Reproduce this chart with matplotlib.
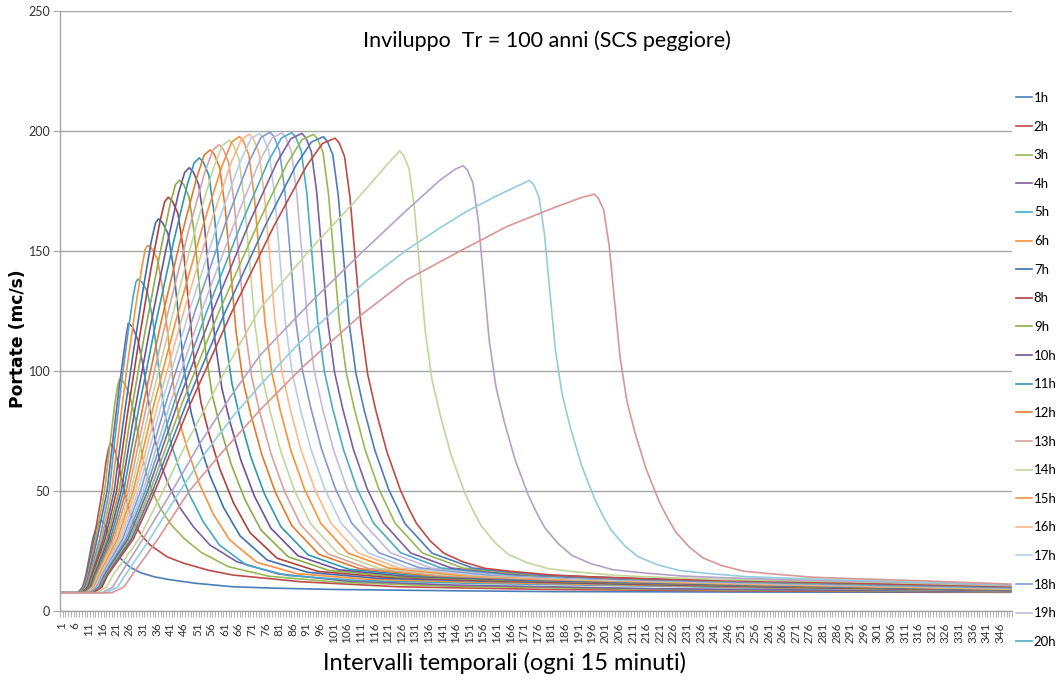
import matplotlib.pyplot as plt
from matplotlib.ticker import FixedLocator

# Hydrographs: interval number (15 min steps) and discharge in m3/s for each rain duration
hours = ['1h', '2h', '3h', '4h', '5h', '6h', '7h', '8h', '9h', '10h', '11h', '12h',
         '13h', '14h', '15h', '16h', '17h', '18h', '19h', '20h', '21h', '22h', '23h', '24h',
         '30h', '36h', '42h', '48h']

t01 = [1, 7, 8.8, 10, 12.5, 14.2, 15.6, 16.8, 18, 20, 22.6, 26, 30, 35, 40, 50, 64, 80, 100, 140, 180, 250, 350]
q01 = [7.6, 7.6, 10, 15, 30, 36.3, 37.8, 36.5, 33, 27, 22, 18.5, 16, 14.3, 13.2, 11.6, 10.1, 9.5, 9.0, 8.5, 8.1, 7.9, 7.8]

t02 = [1, 7.25, 9.1, 10.35, 13.05, 16, 17.4, 18.4, 19.1, 20.5, 22, 24, 26, 28, 30.5, 33.6, 40, 46, 55, 64, 89, 125, 180, 250, 350]
q02 = [7.6, 7.6, 10, 15, 30, 50, 62, 68, 69.8, 67.5, 61, 51, 42, 36, 31.5, 27.5, 22.5, 19.9, 17, 15, 12.2, 10.1, 9.0, 8.4, 7.9]

t03 = [1, 7.5, 9.4, 10.7, 13.6, 16.9, 18.9, 20.6, 21.6, 22.3, 23.8, 25.8, 27.8, 29.8, 31.8, 34.3, 37.3, 41.3, 46.3, 52.3, 62.3, 77.3, 102.3, 142.3, 220, 350]
q03 = [7.6, 7.6, 10, 15, 30, 50, 70, 86, 93.5, 96.5, 95.5, 91, 82, 70, 59, 50, 43, 36, 30, 24.5, 18.5, 14.5, 12, 10.4, 9.0, 8.0]

t04 = [1, 7.75, 9.7, 11.05, 14.15, 17.8, 20, 22.1, 24, 25, 25.6, 27.1, 29.1, 31.1, 33.1, 35.1, 37.6, 40.6, 44.6, 49.6, 55.6, 65.6, 80.6, 105.6, 145.6, 220, 350]
q04 = [7.6, 7.6, 10, 15, 30, 50, 72, 92, 108, 116, 119.9, 118.5, 113, 102, 87, 73, 61, 52, 43, 35, 27.5, 20.5, 15.5, 12.5, 10.8, 9.3, 8.1]

t05 = [1, 8.0, 10.0, 11.4, 15.1, 18.6, 20.7, 23.0, 25.5, 27.4, 28.4, 29.1, 30.6, 32.6, 34.6, 36.6, 38.6, 41.1, 44.1, 48.1, 53.1, 59.1, 69.1, 84.1, 109.1, 149.1, 260, 350]
q05 = [7.6, 7.6, 10, 15, 30, 50, 72.1, 94.2, 116.2, 131.2, 137.0, 138.3, 137.0, 133.1, 121.4, 103.1, 84.9, 70.5, 60.1, 48.4, 37.3, 27.5, 19.1, 14.8, 12.8, 11.6, 9.6, 8.3]

t06 = [1, 8.25, 10.35, 11.75, 15.75, 19.5, 22.2, 25.1, 28.3, 30.7, 31.9, 32.8, 34.3, 36.3, 38.3, 40.3, 42.3, 44.8, 47.8, 51.8, 56.8, 62.8, 72.8, 87.8, 112.8, 152.8, 260, 350]
q06 = [7.6, 7.6, 10, 15, 30, 50, 75.6, 101.2, 126.8, 144.2, 150.9, 152.4, 151.0, 146.6, 133.6, 113.4, 93.2, 77.3, 65.8, 52.8, 40.5, 29.7, 20.3, 15.5, 13.3, 12.0, 9.8, 8.4]

t07 = [1, 8.5, 10.65, 12.1, 16.4, 20.4, 23.7, 27.3, 31.2, 34.1, 35.6, 36.7, 38.2, 40.2, 42.2, 44.2, 46.2, 48.7, 51.7, 55.7, 60.7, 66.7, 76.7, 91.7, 116.7, 156.7, 260, 350]
q07 = [7.6, 7.6, 10, 15, 30, 50, 78.4, 106.7, 135.1, 154.3, 161.7, 163.4, 161.8, 157.2, 143.2, 121.4, 99.7, 82.6, 70.2, 56.2, 43.0, 31.3, 21.2, 16.1, 13.7, 12.4, 10.0, 8.5]

t08 = [1, 8.75, 10.95, 12.45, 17.05, 21.3, 25.1, 29.3, 33.8, 37.3, 39.0, 40.3, 41.8, 43.8, 45.8, 47.8, 49.8, 52.3, 55.3, 59.3, 64.3, 70.3, 80.3, 95.3, 120.3, 160.3, 260, 350]
q08 = [7.6, 7.6, 10, 15, 30, 50, 80.6, 111.2, 141.8, 162.6, 170.6, 172.4, 170.8, 165.8, 151.0, 128.0, 105.0, 86.9, 73.8, 59.0, 45.0, 32.7, 22.0, 16.5, 14.1, 12.6, 10.2, 8.6]

t09 = [1, 9.0, 11.3, 12.8, 17.7, 22.2, 26.6, 31.5, 36.9, 40.9, 42.9, 44.4, 45.9, 47.9, 49.9, 51.9, 53.9, 56.4, 59.4, 63.4, 68.4, 74.4, 84.4, 99.4, 124.4, 164.4, 260, 350]
q09 = [7.6, 7.6, 10, 15, 30, 50, 82.4, 114.8, 147.1, 169.1, 177.6, 179.5, 177.8, 172.6, 157.2, 133.2, 109.2, 90.3, 76.6, 61.2, 46.6, 33.7, 22.6, 16.9, 14.3, 12.8, 10.4, 8.7]

t10 = [1, 9.25, 11.6, 13.15, 18.35, 23.0, 28.0, 33.5, 39.5, 44.0, 46.3, 48.0, 49.5, 51.5, 53.5, 55.5, 57.5, 60.0, 63.0, 67.0, 72.0, 78.0, 88.0, 103.0, 128.0, 168.0, 260, 350]
q10 = [7.6, 7.6, 10, 15, 30, 50, 83.7, 117.4, 151.0, 173.9, 182.7, 184.7, 182.9, 177.6, 161.7, 137.0, 112.3, 92.8, 78.7, 62.8, 47.8, 34.5, 23.0, 17.2, 14.5, 12.9, 10.6, 8.8]

t11 = [1, 9.5, 11.9, 13.5, 19.0, 23.9, 29.5, 35.6, 42.3, 47.3, 49.8, 51.7, 53.2, 55.2, 57.2, 59.2, 61.2, 63.7, 66.7, 70.7, 75.7, 81.7, 91.7, 106.7, 131.7, 171.7, 260, 350]
q11 = [7.6, 7.6, 10, 15, 30, 50, 84.7, 119.4, 154.1, 177.7, 186.7, 188.8, 187.0, 181.6, 165.3, 140.0, 114.7, 94.8, 80.3, 64.0, 48.7, 35.1, 23.4, 17.4, 14.7, 13.1, 10.8, 8.9]

t12 = [1, 9.75, 12.2, 13.85, 19.65, 24.8, 31.0, 37.8, 45.2, 50.8, 53.5, 55.7, 57.2, 59.2, 61.2, 63.2, 65.2, 67.7, 70.7, 74.7, 79.7, 85.7, 95.7, 110.7, 135.7, 175.7, 260, 350]
q12 = [7.6, 7.6, 10, 15, 30, 50, 85.5, 121.1, 156.6, 180.7, 190.0, 192.1, 190.3, 184.7, 168.2, 142.4, 116.6, 96.4, 81.6, 65.1, 49.4, 35.6, 23.6, 17.6, 14.8, 13.2, 10.9, 9.0]

t13 = [1, 10.0, 12.5, 14.2, 20.3, 25.7, 32.4, 39.7, 47.7, 53.7, 56.7, 59.0, 60.5, 62.5, 64.5, 66.5, 68.5, 71.0, 74.0, 78.0, 83.0, 89.0, 99.0, 114.0, 139.0, 179.0, 260, 350]
q13 = [7.6, 7.6, 10, 15, 30, 50, 86.1, 122.2, 158.2, 182.8, 192.1, 194.3, 192.4, 186.8, 170.1, 144.0, 117.9, 97.4, 82.5, 65.8, 49.9, 35.9, 23.8, 17.7, 14.9, 13.2, 11.0, 9.1]

t14 = [1, 10.25, 12.85, 14.55, 20.95, 26.6, 33.8, 41.8, 50.4, 56.9, 60.2, 62.7, 64.2, 66.2, 68.2, 70.2, 72.2, 74.7, 77.7, 81.7, 86.7, 92.7, 102.7, 117.7, 142.7, 182.7, 260, 350]
q14 = [7.6, 7.6, 10, 15, 30, 50, 86.6, 123.1, 159.7, 184.5, 194.0, 196.2, 194.3, 188.7, 171.7, 145.4, 119.0, 98.3, 83.3, 66.3, 50.3, 36.2, 24.0, 17.8, 15.0, 13.3, 11.2, 9.2]

t15 = [1, 10.5, 13.15, 14.9, 21.6, 27.4, 35.2, 43.8, 53.1, 60.2, 63.7, 66.4, 67.9, 69.9, 71.9, 73.9, 75.9, 78.4, 81.4, 85.4, 90.4, 96.4, 106.4, 121.4, 146.4, 186.4, 260, 350]
q15 = [7.6, 7.6, 10, 15, 30, 50, 86.9, 123.9, 160.8, 185.9, 195.5, 197.7, 195.8, 190.1, 173.0, 146.5, 119.9, 99.1, 83.9, 66.8, 50.7, 36.5, 24.1, 17.9, 15.0, 13.3, 11.3, 9.3]

t16 = [1, 10.75, 13.45, 15.25, 22.25, 28.3, 36.7, 45.9, 55.9, 63.4, 67.2, 70.1, 71.6, 73.6, 75.6, 77.6, 79.6, 82.1, 85.1, 89.1, 94.1, 100.1, 110.1, 125.1, 150.1, 190.1, 260, 350]
q16 = [7.6, 7.6, 10, 15, 30, 50, 87.2, 124.4, 161.5, 186.8, 196.5, 198.7, 196.8, 191.1, 173.9, 147.2, 120.5, 99.5, 84.3, 67.1, 50.9, 36.6, 24.2, 17.9, 15.1, 13.3, 11.4, 9.4]

t17 = [1, 11.0, 13.75, 15.6, 22.9, 29.2, 38.1, 47.9, 58.6, 66.7, 70.7, 73.8, 75.3, 77.3, 79.3, 81.3, 83.3, 85.8, 88.8, 92.8, 97.8, 103.8, 113.8, 128.8, 153.8, 193.8, 260, 350]
q17 = [7.6, 7.6, 10, 15, 30, 50, 87.3, 124.5, 161.8, 187.1, 196.8, 199.0, 197.1, 191.4, 174.2, 147.4, 120.7, 99.7, 84.4, 67.2, 51.0, 36.7, 24.2, 17.9, 15.1, 13.3, 11.5, 9.5]

t18 = [1, 11.25, 14.05, 15.95, 23.55, 30.1, 39.6, 50.1, 61.5, 70.1, 74.4, 77.7, 79.2, 81.2, 83.2, 85.2, 87.2, 89.7, 92.7, 96.7, 101.7, 107.7, 117.7, 132.7, 157.7, 197.7, 260, 350]
q18 = [7.6, 7.6, 10, 15, 30, 50, 87.4, 124.8, 162.1, 187.5, 197.3, 199.5, 197.6, 191.8, 174.6, 147.8, 121.0, 99.9, 84.6, 67.4, 51.1, 36.7, 24.3, 18.0, 15.1, 13.4, 11.6, 9.6]

t19 = [1, 11.5, 14.4, 16.3, 24.2, 31.0, 41.2, 52.4, 64.7, 73.8, 78.4, 82.0, 83.5, 85.5, 87.5, 89.5, 91.5, 94.0, 97.0, 101.0, 106.0, 112.0, 122.0, 137.0, 162.0, 202.0, 260, 350]
q19 = [7.6, 7.6, 10, 15, 30, 50, 87.3, 124.6, 161.9, 187.3, 197.0, 199.2, 197.3, 191.6, 174.3, 147.6, 120.8, 99.8, 84.5, 67.3, 51.0, 36.7, 24.3, 17.9, 15.1, 13.4, 11.8, 9.7]

t20 = [1, 11.75, 14.7, 16.65, 24.85, 31.8, 42.6, 54.4, 67.4, 77.1, 81.9, 85.7, 87.2, 89.2, 91.2, 93.2, 95.2, 97.7, 100.7, 104.7, 109.7, 115.7, 125.7, 140.7, 165.7, 205.7, 260, 350]
q20 = [7.6, 7.6, 10, 15, 30, 50, 87.3, 124.7, 162.0, 187.4, 197.1, 199.3, 197.4, 191.6, 174.4, 147.6, 120.9, 99.8, 84.5, 67.3, 51.0, 36.7, 24.3, 17.9, 15.1, 13.4, 11.9, 9.8]

t21 = [1, 12.0, 15.0, 17.0, 25.5, 32.7, 44.0, 56.5, 70.1, 80.3, 85.4, 89.4, 90.9, 92.9, 94.9, 96.9, 98.9, 101.4, 104.4, 108.4, 113.4, 119.4, 129.4, 144.4, 169.4, 209.4, 260, 350]
q21 = [7.6, 7.6, 10, 15, 30, 50, 87.3, 124.5, 161.8, 187.1, 196.8, 199.0, 197.1, 191.4, 174.2, 147.4, 120.7, 99.7, 84.4, 67.2, 51.0, 36.7, 24.2, 17.9, 15.1, 13.3, 12.0, 9.9]

t22 = [1, 12.25, 15.3, 17.35, 26.15, 33.6, 45.6, 58.8, 73.3, 84.1, 89.5, 93.7, 95.2, 97.2, 99.2, 101.2, 103.2, 105.7, 108.7, 112.7, 117.7, 123.7, 133.7, 148.7, 173.7, 213.7, 260, 350]
q22 = [7.6, 7.6, 10, 15, 30, 50, 87.2, 124.3, 161.5, 186.7, 196.4, 198.6, 196.7, 191.0, 173.8, 147.1, 120.5, 99.5, 84.2, 67.1, 50.9, 36.6, 24.2, 17.9, 15.1, 13.3, 12.1, 10.0]

t23 = [1, 12.5, 15.6, 17.7, 26.8, 34.5, 47.1, 60.9, 76.0, 87.3, 92.9, 97.3, 98.8, 100.8, 102.8, 104.8, 106.8, 109.3, 112.3, 116.3, 121.3, 127.3, 137.3, 152.3, 177.3, 217.3, 260, 350]
q23 = [7.6, 7.6, 10, 15, 30, 50, 86.9, 123.8, 160.7, 185.8, 195.4, 197.6, 195.7, 190.0, 173.0, 146.4, 119.9, 99.0, 83.8, 66.8, 50.7, 36.4, 24.1, 17.9, 15.0, 13.3, 12.3, 10.1]

t24 = [1, 12.75, 15.95, 18.05, 27.45, 35.4, 48.6, 63.2, 79.1, 91.0, 97.0, 101.6, 103.1, 105.1, 107.1, 109.1, 111.1, 113.6, 116.6, 120.6, 125.6, 128.6, 131.6, 136.6, 141.6, 148.6, 156.6, 166.6, 181.6, 196.6, 221.6, 260, 350]
q24 = [7.6, 7.6, 10, 15, 30, 50, 86.8, 123.5, 160.3, 185.2, 194.8, 197.0, 195.1, 189.4, 172.4, 146.0, 119.5, 98.7, 83.6, 66.6, 50.5, 43.0, 36.4, 29.2, 24.1, 20.5, 17.8, 16.5, 15.0, 14.2, 13.3, 12.4, 10.3]

t30 = [1, 14, 17.6, 20, 29.5, 38.4, 47, 56, 65, 74, 92, 110, 120, 125.3, 126.8, 128.8, 130.8, 132.8, 134.8, 137.3, 140.3, 144.3, 149.3, 152.3, 155.3, 160.3, 165.3, 172.3, 180.3, 190.3, 205.3, 220.3, 245.3, 300, 350]
q30 = [7.6, 7.6, 10, 15, 30, 50, 70, 89, 108, 126, 150, 172, 185, 191.7, 189.9, 184.4, 167.8, 142.1, 116.4, 96.2, 81.5, 64.9, 49.3, 42.0, 35.6, 28.6, 23.6, 20.1, 17.6, 16.3, 14.8, 14.1, 13.1, 12.0, 10.6]

t36 = [1, 16, 19.9, 22.5, 31, 41.7, 52, 63, 74, 93, 112, 127, 140.3, 146, 148.8, 150.3, 152.3, 154.3, 156.3, 158.3, 160.8, 163.8, 167.8, 172.8, 175.8, 178.8, 183.8, 188.8, 195.8, 203.8, 213.8, 228.8, 243.8, 268.8, 310, 350]
q36 = [7.6, 7.6, 10, 15, 30, 50, 70, 89, 106.5, 129, 150, 166, 179.6, 184.2, 185.5, 183.7, 178.4, 162.4, 137.6, 112.7, 93.2, 79.0, 63.0, 47.9, 40.8, 34.6, 27.9, 23.1, 19.7, 17.2, 16.0, 14.6, 13.9, 13.0, 12.0, 10.8]

t42 = [1, 17.5, 21.7, 24.5, 33.5, 44.6, 54, 64, 74, 87, 100, 113, 127.4, 140, 150, 162, 173.1, 174.6, 176.6, 178.6, 180.6, 182.6, 185.1, 188.1, 192.1, 197.1, 200.1, 203.1, 208.1, 213.1, 220.1, 228.1, 238.1, 253.1, 268.1, 293.1, 350]
q42 = [7.6, 7.6, 10, 15, 30, 50, 66, 81, 94, 110, 124, 137.5, 150, 159.5, 166.5, 173.5, 179.4, 177.7, 172.5, 157.1, 133.1, 109.1, 90.3, 76.6, 61.1, 46.6, 39.7, 33.7, 27.2, 22.6, 19.3, 16.9, 15.7, 14.3, 13.7, 12.8, 11.0]

t48 = [1, 19.5, 24, 27, 36.5, 48, 60, 74, 90, 110.8, 128, 147.6, 164.8, 182, 192, 196.9, 198.4, 200.4, 202.4, 204.4, 206.4, 208.9, 211.9, 215.9, 220.9, 223.9, 226.9, 231.9, 236.9, 243.9, 251.9, 261.9, 276.9, 291.9, 316.9, 350]
q48 = [7.6, 7.6, 10, 15, 30, 50, 66, 83.7, 102, 123, 138, 150, 160.2, 168, 172.2, 173.7, 172.0, 167.1, 152.2, 129.0, 105.8, 87.5, 74.3, 59.4, 45.3, 38.7, 32.9, 26.6, 22.1, 18.9, 16.6, 15.5, 14.1, 13.5, 12.6, 11.2]

colors = ['#4A7EBB', '#BE4B48', '#98B954', '#7D60A0', '#46AAC5', '#F69240',
          '#3F6FAE', '#B0413E', '#8AAE48', '#6E5494', '#2F97B3', '#E07B2E',
          '#D9A09E', '#C3D69B', '#F7923A', '#F9B98B', '#B9CDE5', '#7F9CD0',
          '#C5BBD8', '#4BACC6', '#7D60A0', '#98B954', '#4A7EBB', '#BE4B48',
          '#C3D69B', '#B3A2C7', '#93CDDD', '#D99694']

series = [(t01, q01), (t02, q02), (t03, q03), (t04, q04), (t05, q05), (t06, q06),
          (t07, q07), (t08, q08), (t09, q09), (t10, q10), (t11, q11), (t12, q12),
          (t13, q13), (t14, q14), (t15, q15), (t16, q16), (t17, q17), (t18, q18),
          (t19, q19), (t20, q20), (t21, q21), (t22, q22), (t23, q23), (t24, q24),
          (t30, q30), (t36, q36), (t42, q42), (t48, q48)]

plt.rcParams['font.family'] = ['Lato', 'DejaVu Sans']

fig = plt.figure(figsize=(10.57, 6.86), dpi=100)
ax = fig.add_axes([0.0568, 0.1093, 0.9006, 0.8747])

lines = []
for (t, q), c, name in zip(series, colors, hours):
    ln, = ax.plot(t, q, color=c, lw=1.2, label=name, solid_joinstyle='round')
    lines.append(ln)

ax.set_xlim(0.5, 350.5)
ax.set_ylim(0, 250)

# y axis: gridlines every 50
ax.set_yticks(range(0, 251, 50))
ax.yaxis.grid(True, color='#A6A6A6', lw=1.0)
ax.set_axisbelow(True)
ax.tick_params(axis='y', length=5, width=0.8, color='#A6A6A6', labelsize=9, pad=2,
               labelcolor='#333333')

# x axis: one tick per interval, a label every 5
xlabels = list(range(1, 347, 5))
ax.set_xticks(xlabels)
ax.set_xticklabels([str(v) for v in xlabels], rotation=90, fontsize=8.5, color='#333333')
ax.xaxis.set_minor_locator(FixedLocator([v + 0.5 for v in range(0, 351)]))
ax.tick_params(axis='x', which='major', length=0, pad=8)
ax.tick_params(axis='x', which='minor', length=4, width=0.6, color='#A6A6A6')

for side in ['top', 'right']:
    ax.spines[side].set_visible(False)
for side in ['left', 'bottom']:
    ax.spines[side].set_color('#A6A6A6')
    ax.spines[side].set_linewidth(1.0)

fig.text(0.5175, 0.941, 'Inviluppo  Tr = 100 anni (SCS peggiore)', ha='center', va='center',
         fontsize=15.5)
fig.text(0.477, 0.033, 'Intervalli temporali (ogni 15 minuti)', ha='center', va='center',
         fontsize=17)
fig.text(0.017, 0.506, 'Portate (mc/s)', rotation=90, ha='center', va='center',
         fontsize=12.3, fontweight='bold', family=['DejaVu Sans'])

# only the first 20 entries fit beside the plot
leg = fig.legend(lines[:20], hours[:20], loc='upper left',
                 bbox_to_anchor=(1016 / 1057, 1 - 92 / 686), frameon=False,
                 handlelength=1.2, handletextpad=0.15, labelspacing=1.26,
                 borderpad=0, borderaxespad=0, prop={'size': 9.5})

fig.savefig('out.png', dpi=100)
